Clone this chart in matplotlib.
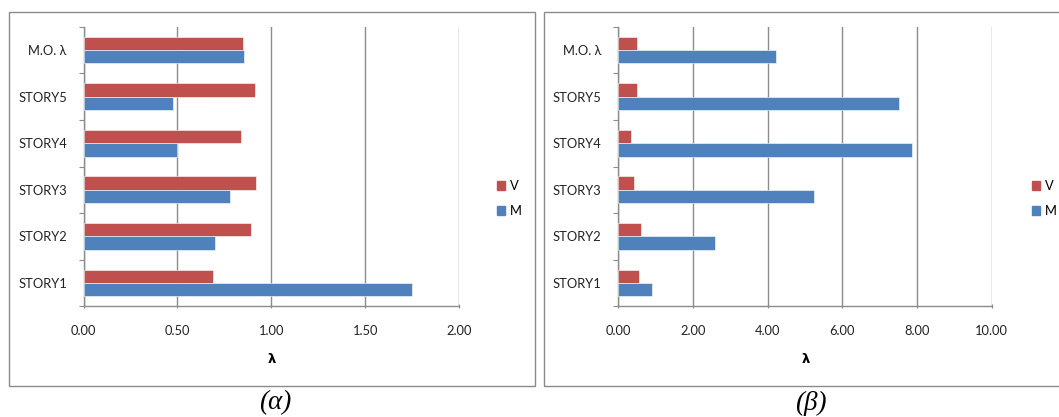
import matplotlib
matplotlib.use("Agg")
import matplotlib.pyplot as plt
from matplotlib.patches import Rectangle, Patch
import numpy as np

categories = ["STORY1", "STORY2", "STORY3", "STORY4", "STORY5", "M.O. λ"]
v_alpha = [0.69, 0.89, 0.92, 0.84, 0.91, 0.85]
m_alpha = [1.75, 0.70, 0.78, 0.50, 0.475, 0.855]
v_beta = [0.54, 0.61, 0.43, 0.34, 0.49, 0.49]
m_beta = [0.90, 2.58, 5.23, 7.87, 7.52, 4.22]
xticks_alpha = [0.0, 0.5, 1.0, 1.5, 2.0]
xticks_beta = [0, 2, 4, 6, 8, 10]
captions = ["(α)", "(β)"]

RED = "#C0504D"
BLUE = "#4F81BD"
GRID = "#8C8C8C"
FONT = "Lato"

W, H = 1059, 417
fig = plt.figure(figsize=(W / 100, H / 100), dpi=100)
fig.patch.set_facecolor("white")

# frames
for x0, x1 in [(8.5, 535), (543.5, 1070)]:
    fig.patches.append(Rectangle((x0 / W, 1 - 386 / H), (x1 - x0) / W, (386 - 11.7) / H,
                                 transform=fig.transFigure, fill=False,
                                 edgecolor="#8A8A8A", linewidth=1.0))

def panel(left, right, v, m, xticks, leg_x, lam_x, cap_x, caption):
    ax = fig.add_axes([left / W, (H - 306.3) / H, (right - left) / W, (306.3 - 26.7) / H])
    y = np.arange(len(categories))
    bh = 0.286
    ax.barh(y + bh / 2, v, height=bh, color=RED, edgecolor="white", linewidth=0.4, label="V", zorder=3)
    ax.barh(y - bh / 2, m, height=bh, color=BLUE, edgecolor="white", linewidth=0.4, label="M", zorder=3)
    ax.set_xlim(xticks[0], xticks[-1])
    ax.set_ylim(-0.5, len(categories) - 0.5)
    ax.set_xticks(xticks)
    ax.set_xticklabels([f"{t:.2f}" for t in xticks], fontsize=9.3, family=FONT, color="#222222")
    ax.set_yticks(np.arange(-0.5, len(categories), 1.0))
    ax.set_yticklabels([])
    ax.set_yticks(y, minor=True)
    ax.set_yticklabels(categories, minor=True, fontsize=9.3, family=FONT, color="#222222")
    ax.tick_params(axis="y", which="minor", length=0, pad=12)
    ax.tick_params(axis="y", which="major", length=3.5, color=GRID, direction="out")
    ax.tick_params(axis="x", length=3, color=GRID, direction="inout", pad=12)
    ax.grid(axis="x", color=GRID, linewidth=1.0, zorder=0)
    for s in ["top", "right"]:
        ax.spines[s].set_visible(False)
    for s in ["left", "bottom"]:
        ax.spines[s].set_color(GRID)
        ax.spines[s].set_linewidth(1.0)
    ax.set_facecolor("white")
    fig.text(lam_x / W, 1 - 359.3 / H, "λ", ha="center", va="center", fontsize=9.5,
             fontweight="bold", family="DejaVu Sans")
    fig.text(cap_x / W, 1 - 403 / H, caption, ha="center", va="center", fontsize=19.5,
             style="italic", family="Liberation Serif")
    handles = [Patch(color=RED, label="V"), Patch(color=BLUE, label="M")]
    fig.legend(handles=handles, loc="center left", bbox_to_anchor=(leg_x / W, 1 - 198.5 / H),
               frameon=False, handlelength=0.6, handleheight=0.6, handletextpad=0.4,
               labelspacing=1.0, borderpad=0, borderaxespad=0,
               prop={"family": FONT, "size": 9.3})
    return ax

panel(83.5, 459.4, v_alpha, m_alpha, xticks_alpha, 497, 271.5, 275.5, captions[0])
panel(618.4, 991.8, v_beta, m_beta, xticks_beta, 1032, 806, 810.7, captions[1])

fig.savefig("out.png", dpi=100, facecolor="white")
